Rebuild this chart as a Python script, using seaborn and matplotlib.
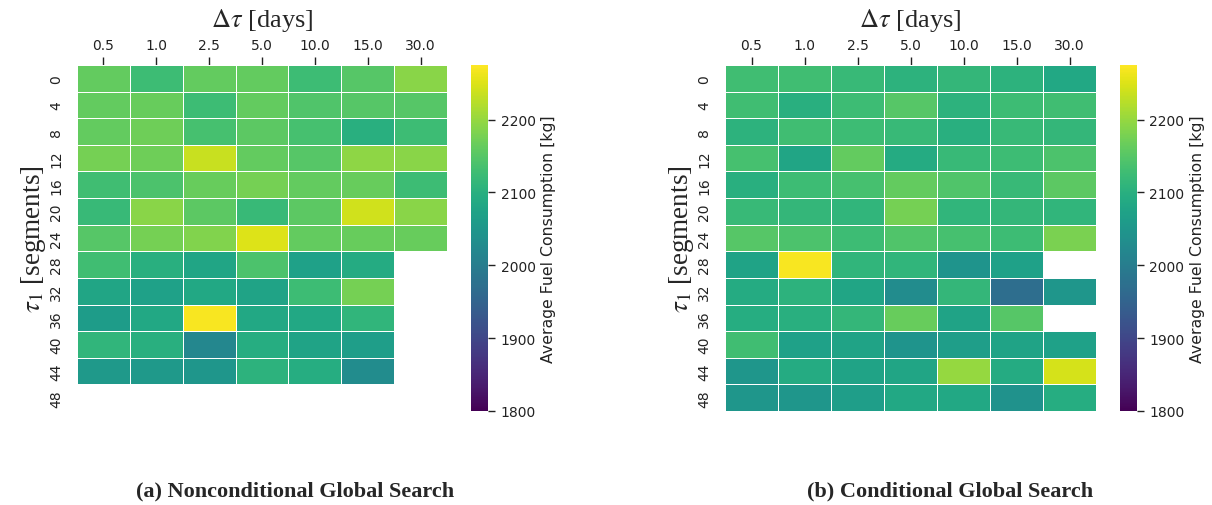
import numpy as np
import pandas as pd
import matplotlib
matplotlib.use("Agg")
import matplotlib.pyplot as plt
import seaborn as sns

# Grid axes
delta_tau = ["0.5", "1.0", "2.5", "5.0", "10.0", "15.0", "30.0"]
tau1 = [0, 4, 8, 12, 16, 20, 24, 28, 32, 36, 40, 44, 48]
nan = np.nan

# Average fuel consumption [kg], rows = tau1, columns = delta_tau
nonconditional = [
    [2160, 2125, 2160, 2160, 2125, 2150, 2190],
    [2160, 2165, 2125, 2160, 2145, 2150, 2150],
    [2160, 2170, 2135, 2155, 2135, 2100, 2125],
    [2175, 2170, 2235, 2160, 2150, 2195, 2190],
    [2130, 2140, 2165, 2175, 2160, 2165, 2125],
    [2120, 2190, 2155, 2120, 2155, 2240, 2190],
    [2150, 2175, 2185, 2250, 2160, 2165, 2165],
    [2130, 2100, 2080, 2140, 2070, 2090, nan],
    [2080, 2070, 2085, 2075, 2125, 2175, nan],
    [2060, 2085, 2270, 2085, 2085, 2110, nan],
    [2110, 2100, 2020, 2095, 2075, 2065, nan],
    [2055, 2055, 2050, 2105, 2095, 2030, nan],
    [nan, nan, nan, nan, nan, nan, nan],
]

conditional = [
    [2130, 2130, 2120, 2105, 2115, 2105, 2085],
    [2130, 2100, 2125, 2150, 2105, 2125, 2130],
    [2105, 2130, 2125, 2120, 2100, 2120, 2115],
    [2135, 2080, 2160, 2090, 2120, 2125, 2140],
    [2100, 2125, 2135, 2160, 2145, 2120, 2155],
    [2120, 2115, 2110, 2175, 2110, 2115, 2110],
    [2150, 2140, 2125, 2145, 2135, 2125, 2180],
    [2075, 2270, 2110, 2110, 2045, 2070, nan],
    [2090, 2105, 2080, 2030, 2115, 1970, 2050],
    [2095, 2100, 2115, 2165, 2075, 2150, nan],
    [2130, 2070, 2075, 2045, 2065, 2075, 2070],
    [2050, 2090, 2075, 2080, 2200, 2090, 2245],
    [2050, 2050, 2065, 2085, 2085, 2040, 2095],
]

captions = ["(a) Nonconditional Global Search", "(b) Conditional Global Search"]
cbar_ticks = [1800, 1900, 2000, 2100, 2200]

sns.set_theme(style="white")
plt.rcParams["font.family"] = ["DejaVu Sans"]
plt.rcParams["mathtext.fontset"] = "stix"

W, H = 1212, 506
fig = plt.figure(figsize=(W / 100, H / 100), dpi=100)


def box(x0, y0, x1, y1):
    return [x0 / W, 1 - y1 / H, (x1 - x0) / W, (y1 - y0) / H]


panels = [
    (nonconditional, box(77, 66, 447, 412), box(471, 66, 488, 412), 295),
    (conditional, box(725, 66, 1096, 412), box(1120, 66, 1137, 412), 950),
]

for (values, ax_box, cax_box, cap_x), caption in zip(panels, captions):
    ax = fig.add_axes(ax_box)
    cax = fig.add_axes(cax_box)
    df = pd.DataFrame(values, index=tau1, columns=delta_tau)
    sns.heatmap(df, ax=ax, cbar_ax=cax, cmap="viridis", vmin=1800, vmax=2275,
                linewidths=0.7, linecolor="white",
                cbar_kws={"label": "Average Fuel Consumption [kg]", "ticks": cbar_ticks})
    ax.xaxis.tick_top()
    ax.xaxis.set_label_position("top")
    ax.set_xlabel(r"$\Delta\tau$ [days]", fontsize=19, family="Liberation Serif", labelpad=9)
    ax.set_ylabel(r"$\tau_1$ [segments]", fontsize=19.5, family="Liberation Serif", labelpad=1)
    ax.tick_params(axis="x", length=6, width=1, pad=3, labelsize=10, colors="#222222")
    ax.tick_params(axis="y", length=0, pad=10, labelsize=10, colors="#222222")
    plt.setp(ax.get_xticklabels(), rotation=0)
    plt.setp(ax.get_yticklabels(), rotation=90, va="center")
    cax.tick_params(length=5, width=1, pad=4, labelsize=10, colors="#222222")
    cax.yaxis.label.set_size(11.3)
    cax.yaxis.label.set_color("#222222")
    fig.text(cap_x / W, 1 - 491 / H, caption, ha="center", va="center",
             fontsize=16, fontweight="bold", family="Liberation Serif")

fig.savefig("out.png", dpi=100)
